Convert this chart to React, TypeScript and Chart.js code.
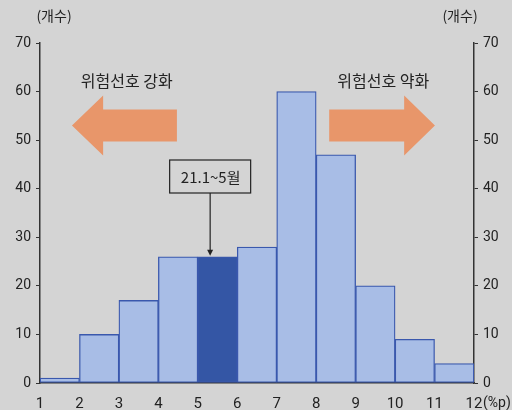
import React, { useEffect, useRef } from "react";
import { Chart, registerables } from "chart.js";

Chart.register(...registerables);

const binEdges = [1, 2, 3, 4, 5, 6, 7, 8, 9, 10, 11, 12];
const counts = [1, 10, 17, 26, 26, 28, 60, 47, 20, 9, 4];
const highlightIndex = 4;
const yTicks = [0, 10, 20, 30, 40, 50, 60, 70];
const unitLabel = "(개수)";
const xUnitLabel = "(%p)";
const leftText = "위험선호 강화";
const rightText = "위험선호 약화";
const boxText = "21.1~5월";

const NUM_FONT = "Roboto, 'Liberation Sans', sans-serif";
const KR_FONT = "'Noto Sans CJK KR', 'Noto Sans', sans-serif";

const annotations = {
  id: "annotations",
  afterDraw(chart: any) {
    const ctx = chart.ctx as CanvasRenderingContext2D;
    const xs = chart.scales.x;
    const ys = chart.scales.y;
    ctx.save();
    ctx.fillStyle = "#222";
    ctx.font = `14px ${KR_FONT}`;
    ctx.textAlign = "center";
    ctx.textBaseline = "middle";
    ctx.fillText(unitLabel, 54, 16);
    ctx.fillText(unitLabel, 460, 16);
    ctx.font = `14px ${NUM_FONT}`;
    ctx.textAlign = "left";
    ctx.fillText(xUnitLabel, xs.getPixelForValue(12) + 9, 403);

    const yMid = ys.getPixelForValue(53);
    const bodyH = 16;
    const headH = 30;
    ctx.fillStyle = "#e8966a";
    const lTip = xs.getPixelForValue(1.81);
    const lBase = xs.getPixelForValue(2.6);
    const lEnd = xs.getPixelForValue(4.47);
    ctx.beginPath();
    ctx.moveTo(lTip, yMid);
    ctx.lineTo(lBase, yMid - headH);
    ctx.lineTo(lBase, yMid - bodyH);
    ctx.lineTo(lEnd, yMid - bodyH);
    ctx.lineTo(lEnd, yMid + bodyH);
    ctx.lineTo(lBase, yMid + bodyH);
    ctx.lineTo(lBase, yMid + headH);
    ctx.closePath();
    ctx.fill();
    const rTip = xs.getPixelForValue(11.01);
    const rBase = xs.getPixelForValue(10.23);
    const rEnd = xs.getPixelForValue(8.33);
    ctx.beginPath();
    ctx.moveTo(rTip, yMid);
    ctx.lineTo(rBase, yMid - headH);
    ctx.lineTo(rBase, yMid - bodyH);
    ctx.lineTo(rEnd, yMid - bodyH);
    ctx.lineTo(rEnd, yMid + bodyH);
    ctx.lineTo(rBase, yMid + bodyH);
    ctx.lineTo(rBase, yMid + headH);
    ctx.closePath();
    ctx.fill();

    ctx.fillStyle = "#222";
    ctx.font = `16px ${KR_FONT}`;
    ctx.textAlign = "center";
    ctx.textBaseline = "middle";
    ctx.fillText(leftText, xs.getPixelForValue(3.2), 81);
    ctx.fillText(rightText, xs.getPixelForValue(9.7), 81);

    const bx = xs.getPixelForValue(5.3);
    const bw = 81;
    const btop = 160;
    const bh = 33;
    ctx.fillStyle = "#d4d4d4";
    ctx.fillRect(bx - bw / 2 + 0.5, btop, bw, bh);
    ctx.strokeStyle = "#222";
    ctx.lineWidth = 1.2;
    ctx.strokeRect(bx - bw / 2 + 0.5, btop, bw, bh);
    ctx.fillStyle = "#222";
    ctx.font = `15px ${KR_FONT}`;
    ctx.fillText(boxText, bx + 1, btop + bh / 2 + 1);
    const barTop = ys.getPixelForValue(counts[highlightIndex]);
    const px = bx + 0.5;
    ctx.beginPath();
    ctx.moveTo(px, btop + bh);
    ctx.lineTo(px, barTop - 5);
    ctx.lineWidth = 1.2;
    ctx.stroke();
    ctx.beginPath();
    ctx.moveTo(px, barTop - 1);
    ctx.lineTo(px - 3, barTop - 7);
    ctx.lineTo(px + 3, barTop - 7);
    ctx.closePath();
    ctx.fillStyle = "#222";
    ctx.fill();
    ctx.restore();
  },
};

export default function App() {
  const ref = useRef<HTMLCanvasElement>(null);
  useEffect(() => {
    document.body.style.margin = "0";
    document.body.style.background = "#d4d4d4";
    const data = counts.map((c, i) => ({ x: (binEdges[i] + binEdges[i + 1]) / 2, y: c }));
    const chart = new Chart(ref.current!, {
      type: "bar",
      data: {
        datasets: [
          {
            data: data as any,
            backgroundColor: counts.map((_, i) => (i === highlightIndex ? "#3456a5" : "#a8bde6")),
            borderColor: "#3a58ad",
            borderWidth: 1.3,
            borderSkipped: false,
            barPercentage: 1,
            categoryPercentage: 1,
          },
        ],
      },
      options: {
        animation: false,
        responsive: false,
        maintainAspectRatio: false,
        layout: { padding: { top: 43, left: 0, right: 0, bottom: 0 } },
        plugins: { legend: { display: false }, tooltip: { enabled: false } },
        scales: {
          x: {
            type: "linear",
            min: binEdges[0],
            max: binEdges[binEdges.length - 1],
            offset: false,
            afterBuildTicks: (s: any) => {
              s.ticks = binEdges.map((v) => ({ value: v }));
            },
            afterFit: (s: any) => {
              s.height = 27;
            },
            grid: { display: true, drawOnChartArea: false, drawTicks: false, color: "#333" },
            border: { display: true, color: "#333", width: 1.5 },
            ticks: {
              color: "#222",
              font: { size: 15, family: NUM_FONT },
              padding: 12,
              maxRotation: 0,
              autoSkip: false,
              callback: (v: any) => String(v),
            },
          },
          y: {
            position: "left",
            min: 0,
            max: 70,
            afterBuildTicks: (s: any) => {
              s.ticks = yTicks.map((v) => ({ value: v }));
            },
            afterFit: (s: any) => {
              s.width = 40;
            },
            grid: { drawOnChartArea: false, tickLength: 4, color: "#333" },
            border: { display: true, color: "#333", width: 1.5 },
            ticks: { color: "#222", font: { size: 14, family: NUM_FONT }, padding: 5 },
          },
          y2: {
            position: "right",
            min: 0,
            max: 70,
            afterBuildTicks: (s: any) => {
              s.ticks = yTicks.map((v) => ({ value: v }));
            },
            afterFit: (s: any) => {
              s.width = 38;
            },
            grid: { drawOnChartArea: false, tickLength: 4, color: "#333" },
            border: { display: true, color: "#333", width: 1.5 },
            ticks: { color: "#222", font: { size: 14, family: NUM_FONT }, padding: 5 },
          },
        },
      } as any,
      plugins: [annotations],
    });
    return () => chart.destroy();
  }, []);
  return (
    <div style={{ width: 512, height: 410, background: "#d4d4d4" }}>
      <canvas ref={ref} width={512} height={410} style={{ width: 512, height: 410 }} />
    </div>
  );
}
